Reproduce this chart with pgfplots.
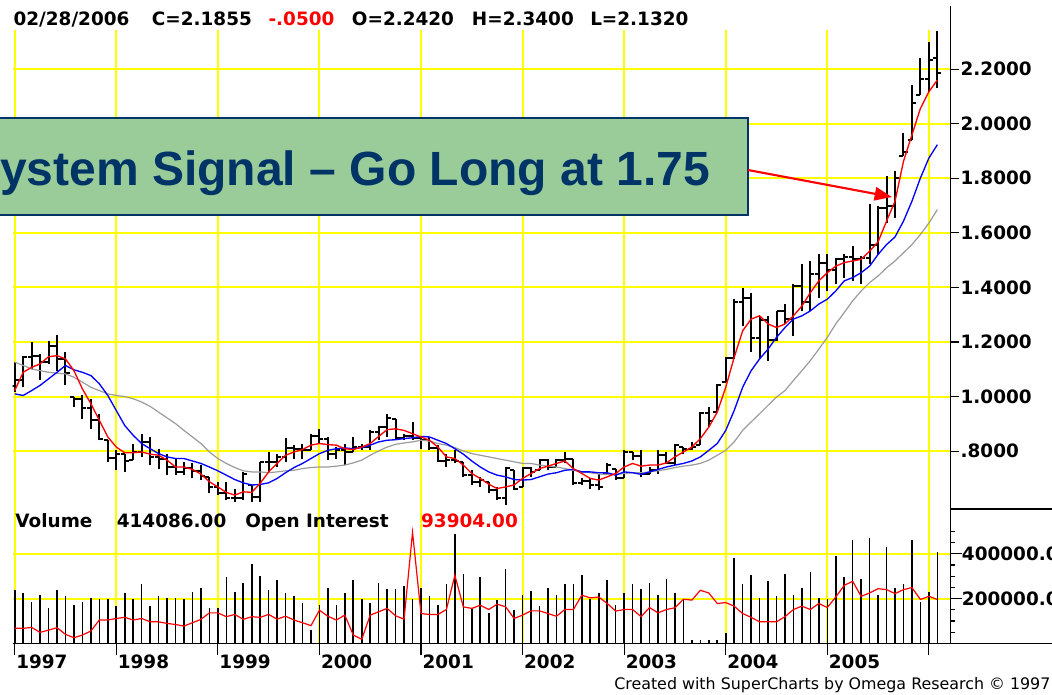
\documentclass[border=0pt]{standalone}
\usepackage{pgfplots}
\usepackage{pgfplotstable}
\pgfplotsset{compat=1.18}
\usepackage{fontspec}
\setmainfont{DejaVu Sans}
\newfontfamily\lsans{Liberation Sans}
\usetikzlibrary{arrows.meta}
\definecolor{gridy}{RGB}{255,255,0}
\definecolor{boxg}{RGB}{153,204,153}
\definecolor{navy}{RGB}{0,51,102}
\definecolor{magray}{RGB}{155,155,155}
\newcommand{\hdr}{\bfseries\fontsize{13.8}{15}\selectfont}

\pgfplotstableread{
m O H L C
0 1.040 1.126 1.016 1.061
1 1.061 1.150 1.034 1.144
2 1.144 1.199 1.101 1.150
3 1.150 1.156 1.059 1.126
4 1.126 1.205 1.120 1.187
5 1.187 1.227 1.095 1.138
6 1.138 1.162 1.041 1.086
7 0.998 0.998 0.961 0.992
8 0.992 1.004 0.919 0.959
9 0.959 0.992 0.882 0.913
10 0.913 0.937 0.840 0.846
11 0.840 0.840 0.761 0.776
12 0.776 0.803 0.730 0.791
13 0.791 0.791 0.724 0.764
14 0.767 0.828 0.767 0.797
15 0.797 0.864 0.779 0.834
16 0.834 0.852 0.749 0.779
17 0.779 0.809 0.736 0.773
18 0.773 0.791 0.712 0.742
19 0.742 0.773 0.712 0.722
20 0.722 0.761 0.712 0.740
21 0.740 0.755 0.700 0.728
22 0.728 0.749 0.694 0.710
23 0.706 0.706 0.645 0.669
24 0.669 0.688 0.639 0.645
25 0.645 0.688 0.621 0.630
26 0.630 0.663 0.615 0.629
27 0.629 0.724 0.621 0.718
28 0.676 0.676 0.615 0.633
29 0.633 0.761 0.615 0.761
30 0.761 0.797 0.724 0.761
31 0.761 0.791 0.742 0.779
32 0.779 0.849 0.761 0.813
33 0.813 0.822 0.773 0.809
34 0.809 0.828 0.773 0.806
35 0.806 0.864 0.803 0.854
36 0.854 0.882 0.828 0.843
37 0.843 0.852 0.767 0.791
38 0.791 0.815 0.773 0.803
39 0.803 0.828 0.749 0.797
40 0.797 0.852 0.797 0.815
41 0.815 0.828 0.803 0.815
42 0.815 0.876 0.803 0.870
43 0.870 0.894 0.840 0.888
44 0.888 0.937 0.852 0.922
45 0.919 0.919 0.840 0.849
46 0.849 0.864 0.840 0.854
47 0.854 0.907 0.840 0.849
48 0.849 0.852 0.809 0.840
49 0.840 0.852 0.803 0.813
50 0.813 0.822 0.761 0.764
51 0.764 0.791 0.742 0.769
52 0.769 0.803 0.755 0.764
53 0.761 0.761 0.706 0.714
54 0.714 0.730 0.676 0.688
55 0.688 0.706 0.669 0.696
56 0.688 0.688 0.645 0.657
57 0.657 0.669 0.621 0.629
58 0.629 0.742 0.603 0.740
59 0.730 0.730 0.657 0.663
60 0.669 0.742 0.669 0.740
61 0.740 0.742 0.706 0.724
62 0.730 0.773 0.730 0.769
63 0.769 0.773 0.730 0.742
64 0.742 0.773 0.742 0.769
65 0.769 0.797 0.755 0.773
66 0.773 0.773 0.676 0.682
67 0.682 0.700 0.676 0.691
68 0.691 0.700 0.663 0.676
69 0.676 0.718 0.657 0.669
70 0.718 0.757 0.718 0.749
71 0.736 0.736 0.694 0.700
72 0.700 0.803 0.700 0.797
73 0.797 0.797 0.767 0.781
74 0.781 0.803 0.706 0.716
75 0.718 0.742 0.718 0.730
76 0.730 0.803 0.718 0.785
77 0.785 0.797 0.755 0.757
78 0.757 0.828 0.749 0.822
79 0.815 0.815 0.791 0.807
80 0.807 0.834 0.803 0.815
81 0.822 0.943 0.822 0.941
82 0.941 0.961 0.888 0.910
83 0.943 1.046 0.943 1.044
84 1.055 1.144 1.055 1.141
85 1.141 1.357 1.138 1.345
86 1.345 1.399 1.259 1.363
87 1.363 1.381 1.162 1.214
88 1.214 1.296 1.138 1.280
89 1.280 1.296 1.132 1.207
90 1.207 1.314 1.205 1.312
91 1.312 1.339 1.266 1.284
92 1.284 1.411 1.223 1.405
93 1.405 1.485 1.314 1.348
94 1.348 1.497 1.314 1.448
95 1.448 1.521 1.363 1.491
96 1.491 1.521 1.387 1.464
97 1.464 1.509 1.412 1.503
98 1.503 1.521 1.436 1.511
99 1.511 1.551 1.424 1.503
100 1.503 1.515 1.412 1.506
101 1.506 1.704 1.485 1.555
102 1.555 1.700 1.520 1.691
103 1.691 1.807 1.636 1.697
104 1.697 1.825 1.655 1.801
105 1.880 1.965 1.880 1.898
106 1.941 2.142 1.941 2.074
107 2.105 2.239 2.105 2.162
108 2.162 2.300 2.117 2.233
109 2.242 2.340 2.132 2.1855
}\ohlc

\pgfplotstableread{
m V OI
0 237000 67000
1 225000 67000
2 185000 71000
3 218000 49000
4 159000 59000
5 237000 70000
6 210000 40000
7 170000 25000
8 185000 37000
9 204000 55000
10 199000 104000
11 199000 104000
12 166000 111000
13 225000 116000
14 199000 104000
15 264000 111000
16 166000 96000
17 210000 96000
18 204000 89000
19 204000 84000
20 199000 77000
21 230000 92000
22 249000 107000
23 159000 136000
24 159000 136000
25 296000 119000
26 230000 129000
27 270000 107000
28 356000 119000
29 302000 116000
30 237000 129000
31 281000 108000
32 225000 121000
33 210000 104000
34 178000 92000
35 59000 79000
36 170000 148000
37 249000 121000
38 170000 104000
39 225000 126000
40 284000 37000
41 199000 18000
42 178000 126000
43 270000 141000
44 244000 156000
45 244000 123000
46 258000 108000
47 199000 496000
48 249000 133000
49 210000 129000
50 170000 129000
51 264000 151000
52 489000 304000
53 311000 163000
54 156000 156000
55 296000 170000
56 136000 151000
57 193000 175000
58 333000 163000
59 151000 111000
60 218000 126000
61 233000 145000
62 166000 145000
63 249000 133000
64 218000 121000
65 264000 151000
66 264000 151000
67 304000 215000
68 200000 203000
69 225000 207000
70 284000 178000
71 173000 144000
72 225000 151000
73 264000 151000
74 244000 119000
75 270000 160000
76 218000 136000
77 289000 151000
78 225000 159000
79 200000 197000
80 15000 193000
81 15000 237000
82 15000 225000
83 15000 178000
84 44000 182000
85 382000 166000
86 264000 133000
87 304000 116000
88 204000 96000
89 277000 96000
90 210000 96000
91 311000 119000
92 218000 151000
93 249000 166000
94 319000 151000
95 204000 178000
96 197000 160000
97 390000 207000
98 296000 259000
99 462000 277000
100 289000 210000
101 470000 225000
102 218000 244000
103 430000 240000
104 249000 222000
105 264000 240000
106 462000 249000
107 185000 196000
108 230000 210000
109 407000 196000
}\vol

\begin{document}
\begin{tikzpicture}
% ---------------- price panel ----------------
\begin{axis}[
  at={(9.375pt,-381.75pt)}, anchor=south west,
  scale only axis, width=703.4pt, height=359.6pt,
  xmin=-0.26, xmax=110.54, ymin=0.588, ymax=2.345,
  axis line style={draw=none},
  xtick={0,12,24,36,48,60,72,84,96,108}, xticklabels={},
  x tick style={draw=none},
  ytick={0.8,1.0,1.2,1.4,1.6,1.8,2.0,2.2},
  yticklabels={.8000,1.0000,1.2000,1.4000,1.6000,1.8000,2.0000,2.2000},
  ytick pos=right, yticklabel pos=right,
  tick align=outside, major tick length=6.5pt,
  y tick style={black, line width=0.9pt},
  yticklabel style={font=\hdr, anchor=west, inner sep=0pt, xshift=1pt},
  grid=major, major grid style={gridy, line width=1.5pt},
]
% OHLC bars: high-low, open tick, close tick
\addplot[black, line width=1.5pt, mark=none, quiver={u=0, v=\thisrow{H}-\thisrow{L}}] table[x=m, y=L] {\ohlc};
\addplot[black, line width=1.5pt, mark=none, quiver={u=0.48, v=0}] table[x expr=\thisrow{m}-0.48, y=O] {\ohlc};
\addplot[black, line width=1.5pt, mark=none, quiver={u=0.48, v=0}] table[x=m, y=C] {\ohlc};
% gray MA
\addplot[magray, line width=0.9pt, mark=none] coordinates {
(0,1.126)(1,1.114)(2,1.101)(3,1.095)(4,1.089)(5,1.086)(6,1.083)(7,1.071)(8,1.053)(9,1.034)
(10,1.022)(11,1.010)(12,1.004)(13,1.000)(14,0.992)(15,0.980)(16,0.964)(17,0.943)(18,0.922)(19,0.901)
(20,0.876)(21,0.852)(22,0.828)(23,0.797)(24,0.773)(25,0.755)(26,0.740)(27,0.728)(28,0.724)(29,0.724)
(30,0.721)(31,0.724)(32,0.728)(33,0.730)(34,0.736)(35,0.740)(36,0.742)(37,0.742)(38,0.745)(39,0.749)
(40,0.757)(41,0.767)(42,0.785)(43,0.801)(44,0.815)(45,0.825)(46,0.830)(47,0.834)(48,0.840)(49,0.837)
(50,0.828)(51,0.822)(52,0.813)(53,0.801)(54,0.791)(55,0.785)(56,0.779)(57,0.773)(58,0.767)(59,0.761)
(60,0.755)(61,0.755)(62,0.749)(63,0.745)(64,0.742)(65,0.736)(66,0.730)(67,0.724)(68,0.721)(69,0.716)
(70,0.715)(71,0.716)(72,0.718)(73,0.721)(74,0.721)(75,0.724)(76,0.728)(77,0.733)(78,0.740)(79,0.745)
(80,0.749)(81,0.755)(82,0.767)(83,0.785)(84,0.803)(85,0.834)(86,0.876)(87,0.907)(88,0.937)(89,0.968)
(90,0.998)(91,1.022)(92,1.059)(93,1.095)(94,1.132)(95,1.174)(96,1.217)(97,1.266)(98,1.308)(99,1.351)
(100,1.387)(101,1.418)(102,1.442)(103,1.472)(104,1.497)(105,1.527)(106,1.557)(107,1.594)(108,1.636)(109,1.685)};
% blue MA
\addplot[blue, line width=1pt, mark=none] coordinates {
(0,1.010)(1,1.004)(2,1.022)(3,1.041)(4,1.065)(5,1.089)(6,1.114)(7,1.098)(8,1.089)(9,1.077)
(10,1.047)(11,1.004)(12,0.949)(13,0.894)(14,0.858)(15,0.828)(16,0.809)(17,0.791)(18,0.779)(19,0.773)
(20,0.773)(21,0.764)(22,0.755)(23,0.742)(24,0.728)(25,0.712)(26,0.696)(27,0.684)(28,0.676)(29,0.678)
(30,0.684)(31,0.700)(32,0.721)(33,0.740)(34,0.755)(35,0.773)(36,0.791)(37,0.803)(38,0.809)(39,0.812)
(40,0.809)(41,0.813)(42,0.822)(43,0.834)(44,0.840)(45,0.842)(46,0.846)(47,0.849)(48,0.854)(49,0.852)
(50,0.840)(51,0.828)(52,0.809)(53,0.789)(54,0.764)(55,0.742)(56,0.724)(57,0.712)(58,0.706)(59,0.696)
(60,0.694)(61,0.696)(62,0.706)(63,0.716)(64,0.721)(65,0.730)(66,0.733)(67,0.724)(68,0.724)(69,0.721)
(70,0.721)(71,0.712)(72,0.724)(73,0.721)(74,0.715)(75,0.724)(76,0.733)(77,0.742)(78,0.749)(79,0.755)
(80,0.764)(81,0.779)(82,0.803)(83,0.828)(84,0.876)(85,0.949)(86,1.034)(87,1.095)(88,1.138)(89,1.174)
(90,1.217)(91,1.253)(92,1.284)(93,1.296)(94,1.314)(95,1.339)(96,1.357)(97,1.387)(98,1.424)(99,1.436)
(100,1.454)(101,1.478)(102,1.521)(103,1.557)(104,1.585)(105,1.643)(106,1.716)(107,1.801)(108,1.874)(109,1.923)};
% red MA
\addplot[red, line width=1pt, mark=none] coordinates {
(0,1.022)(1,1.089)(2,1.107)(3,1.120)(4,1.146)(5,1.150)(6,1.138)(7,1.095)(8,1.028)(9,0.974)
(10,0.913)(11,0.852)(12,0.815)(13,0.794)(14,0.794)(15,0.797)(16,0.789)(17,0.785)(18,0.767)(19,0.742)
(20,0.742)(21,0.733)(22,0.716)(23,0.688)(24,0.669)(25,0.649)(26,0.639)(27,0.651)(28,0.649)(29,0.682)
(30,0.724)(31,0.755)(32,0.785)(33,0.797)(34,0.806)(35,0.822)(36,0.828)(37,0.824)(38,0.822)(39,0.809)
(40,0.806)(41,0.815)(42,0.828)(43,0.854)(44,0.879)(45,0.882)(46,0.876)(47,0.864)(48,0.852)(49,0.840)
(50,0.815)(51,0.779)(52,0.773)(53,0.749)(54,0.718)(55,0.700)(56,0.679)(57,0.663)(58,0.669)(59,0.676)
(60,0.700)(61,0.718)(62,0.736)(63,0.745)(64,0.755)(65,0.764)(66,0.736)(67,0.718)(68,0.700)(69,0.694)
(70,0.706)(71,0.718)(72,0.742)(73,0.755)(74,0.745)(75,0.749)(76,0.749)(77,0.757)(78,0.779)(79,0.797)
(80,0.815)(81,0.846)(82,0.888)(83,0.943)(84,1.034)(85,1.144)(86,1.241)(87,1.284)(88,1.296)(89,1.266)
(90,1.253)(91,1.266)(92,1.296)(93,1.332)(94,1.381)(95,1.424)(96,1.454)(97,1.478)(98,1.491)(99,1.497)
(100,1.503)(101,1.533)(102,1.567)(103,1.643)(104,1.716)(105,1.862)(106,1.959)(107,2.056)(108,2.117)(109,2.160)};
\end{axis}

% ---------------- volume panel ----------------
\begin{axis}[
  at={(9.375pt,-482.475pt)}, anchor=south west,
  scale only axis, width=703.4pt, height=100.7pt,
  xmin=-0.26, xmax=110.54, ymin=0, ymax=600000,
  axis line style={draw=none},
  xtick={0,12,24,36,48,60,72,84,96,108},
  xticklabels={1997,1998,1999,2000,2001,2002,2003,2004,2005,{}},
  xtick pos=left, xticklabel pos=left,
  ytick={200000,400000}, yticklabels={200000.00,400000.00},
  minor ytick={50000,100000,150000,250000,300000,350000,450000,500000},
  ytick pos=right, yticklabel pos=right,
  scaled y ticks=false,
  tick align=outside, major tick length=8.5pt, minor tick length=3.8pt,
  tick style={black, line width=0.9pt},
  xticklabel style={font=\hdr, anchor=north west, inner sep=0pt, xshift=1pt},
  yticklabel style={font=\hdr, anchor=west, inner sep=0pt, xshift=0pt},
  grid=major, major grid style={gridy, line width=1.5pt},
]
\addplot[ycomb, black, line width=1.2pt, mark=none] table[x=m, y=V] {\vol};
\addplot[red, line width=0.9pt, mark=none] table[x=m, y=OI] {\vol};
\end{axis}

% ---------------- frame lines, texts, annotation ----------------
\begin{scope}[x=0.75pt, y=-0.75pt]
\draw[black, line width=1.1pt] (950.3,6) -- (950.3,643.3);
\draw[black, line width=1.1pt] (12.5,643.3) -- (1060,643.3);
\draw[black, line width=1.1pt] (950.3,509) -- (1060,509);
% header
\node[anchor=base west, inner sep=0pt] at (13.3,25) {\hdr 02/28/2006};
\node[anchor=base west, inner sep=0pt] at (151.7,25) {\hdr C=2.1855};
\node[anchor=base west, inner sep=0pt, text=red] at (268.3,25) {\hdr -.0500};
\node[anchor=base west, inner sep=0pt] at (351.7,25) {\hdr O=2.2420};
\node[anchor=base west, inner sep=0pt] at (471.7,25) {\hdr H=2.3400};
\node[anchor=base west, inner sep=0pt] at (590,25) {\hdr L=2.1320};
% volume header
\node[anchor=base west, inner sep=0pt] at (15.2,527) {\hdr Volume};
\node[anchor=base west, inner sep=0pt] at (116.6,527) {\hdr 414086.00};
\node[anchor=base west, inner sep=0pt] at (245,527) {\hdr Open Interest};
\node[anchor=base west, inner sep=0pt, text=red] at (420.9,527) {\hdr 93904.00};
% footer
\node[anchor=base west, inner sep=0pt] at (614,689) {\fontsize{11.9}{13}\selectfont Created with SuperCharts by Omega Research © 1997};
% annotation box and arrow
\draw[navy, line width=1.6pt, fill=boxg] (-10,118) rectangle (748,215);
\node[anchor=base west, inner sep=0pt, text=navy] at (0,185) {\lsans\bfseries\fontsize{36}{40}\selectfont ystem Signal – Go Long at 1.75};
\draw[red, line width=1.6pt, -{Triangle[length=13pt,width=10pt]}] (748,170) -- (892,197);
\end{scope}
\pgfresetboundingbox
\useasboundingbox (0,0) rectangle (789pt,-520.5pt);
\end{tikzpicture}
\end{document}
